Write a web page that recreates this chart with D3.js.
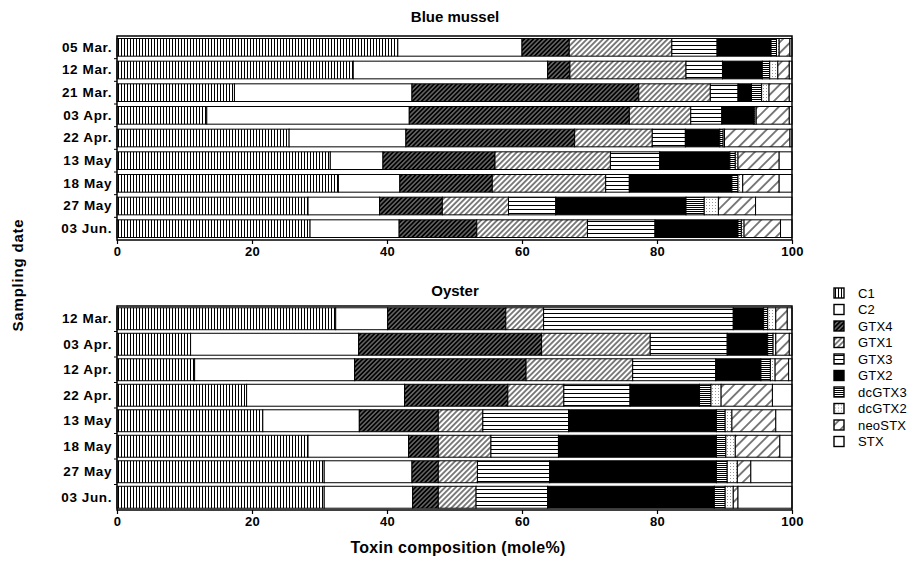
<!DOCTYPE html>
<html>
<head>
<meta charset="utf-8">
<script src="https://cdn.jsdelivr.net/npm/d3@7"></script>
<style>
  body { margin: 0; background: #fff; }
  svg { display: block; font-family: "Liberation Sans", Arial, sans-serif; }
</style>
</head>
<body>
<svg id="chart" width="912" height="563"></svg>
<script>
// toxin order, left to right in each bar
const toxins = ["C1", "C2", "GTX4", "GTX1", "GTX3", "GTX2", "dcGTX3", "dcGTX2", "neoSTX", "STX"];

const musselDates = ["05 Mar.", "12 Mar.", "21 Mar.", "03 Apr.", "22 Apr.", "13 May", "18 May", "27 May", "03 Jun."];
// mole% per toxin, same order as toxins
const musselValues = [
  [41.6, 18.4, 7.0, 15.2, 6.7, 8.0, 0.8, 0.4, 1.6, 0.3],
  [35.0, 28.8, 3.3, 17.2, 5.4, 5.9, 1.1, 1.2, 1.7, 0.4],
  [17.4, 26.3, 33.6, 10.6, 4.1, 2.0, 1.5, 1.1, 3.0, 0.4],
  [13.3, 30.0, 32.6, 9.1, 4.6, 4.7, 0.2, 0.2, 4.9, 0.4],
  [25.5, 17.3, 25.0, 11.5, 4.9, 5.1, 0.5, 0.2, 9.7, 0.3],
  [31.6, 7.8, 16.6, 17.1, 7.3, 10.4, 0.8, 0.4, 6.1, 1.9],
  [32.8, 9.1, 13.7, 16.8, 3.5, 15.2, 0.9, 0.7, 5.4, 1.9],
  [28.3, 10.6, 9.3, 9.8, 7.0, 19.3, 2.7, 2.1, 5.5, 5.4],
  [28.6, 13.2, 11.5, 16.4, 10.0, 12.3, 0.5, 0.4, 5.4, 1.7]
];

const oysterDates = ["12 Mar.", "03 Apr.", "12 Apr.", "22 Apr.", "13 May", "18 May", "27 May", "03 Jun."];
const oysterValues = [
  [32.4, 7.7, 17.5, 5.6, 28.1, 4.5, 0.6, 1.2, 1.7, 0.7],
  [10.9, 24.9, 27.1, 16.1, 11.4, 6.0, 0.8, 0.4, 2.0, 0.4],
  [11.5, 23.7, 25.4, 15.8, 12.3, 6.7, 1.4, 0.7, 2.0, 0.5],
  [19.2, 23.4, 15.3, 8.3, 9.8, 10.3, 1.7, 1.5, 7.6, 2.9],
  [21.6, 14.3, 11.7, 6.6, 12.7, 21.9, 1.3, 1.0, 6.5, 2.4],
  [28.3, 14.9, 4.4, 7.8, 10.0, 23.4, 1.4, 1.4, 6.6, 1.8],
  [30.7, 13.0, 3.9, 5.8, 10.7, 24.7, 1.6, 1.5, 2.0, 6.1],
  [30.7, 13.1, 3.8, 5.6, 10.6, 24.7, 1.6, 1.2, 0.7, 8.0]
];

const xTicks = [0, 20, 40, 60, 80, 100];

const svg = d3.select("#chart");
const defs = svg.append("defs");

// --- fill patterns, one per toxin ---
function diagPattern(id, size, strokeW, color) {
  const p = defs.append("pattern")
    .attr("id", id)
    .attr("patternUnits", "userSpaceOnUse")
    .attr("width", size)
    .attr("height", size)
    .attr("patternTransform", "rotate(45)");
  p.append("rect").attr("width", size).attr("height", size).attr("fill", "#fff");
  p.append("line")
    .attr("x1", size / 2).attr("x2", size / 2)
    .attr("y1", 0).attr("y2", size)
    .attr("stroke", color || "#000")
    .attr("stroke-width", strokeW);
}

// crisp stripes: a 1px black band inside a w x h tile
function stripePattern(id, w, h, vertical) {
  const p = defs.append("pattern")
    .attr("id", id)
    .attr("patternUnits", "userSpaceOnUse")
    .attr("width", w)
    .attr("height", h);
  p.append("rect").attr("width", w).attr("height", h).attr("fill", "#fff");
  p.append("rect")
    .attr("x", vertical ? 1 : 0)
    .attr("y", vertical ? 0 : 1)
    .attr("width", vertical ? 1 : w)
    .attr("height", vertical ? h : 1)
    .attr("fill", "#000");
}

stripePattern("p-C1", 3, 4, true);
diagPattern("p-GTX4", 3.2, 2.6, "#000");
diagPattern("p-GTX1", 3.8, 1.0);
stripePattern("p-GTX3", 4, 4, false);
stripePattern("p-dcGTX3", 4, 2, false);
diagPattern("p-neoSTX", 7.5, 1.0);

const dots = defs.append("pattern")
  .attr("id", "p-dcGTX2")
  .attr("patternUnits", "userSpaceOnUse")
  .attr("width", 3).attr("height", 3);
dots.append("rect").attr("width", 3).attr("height", 3).attr("fill", "#fff");
dots.append("rect").attr("x", 1).attr("y", 1).attr("width", 1).attr("height", 1).attr("fill", "#999");

const fills = {
  C1: "url(#p-C1)",
  C2: "#fff",
  GTX4: "url(#p-GTX4)",
  GTX1: "url(#p-GTX1)",
  GTX3: "url(#p-GTX3)",
  GTX2: "#000",
  dcGTX3: "url(#p-dcGTX3)",
  dcGTX2: "url(#p-dcGTX2)",
  neoSTX: "url(#p-neoSTX)",
  STX: "#fff"
};

const x = d3.scaleLinear().domain([0, 100]).range([117, 792]);

function drawPanel(title, titleY, dates, values, top, bottom, padding) {
  const y = d3.scaleBand().domain(dates).range([top, bottom]).paddingInner(padding).paddingOuter(padding / 2);

  const rows = dates.map((d, i) => {
    const r = { date: d };
    toxins.forEach((t, j) => (r[t] = values[i][j]));
    return r;
  });
  const series = d3.stack().keys(toxins)(rows);

  const g = svg.append("g");

  // title
  g.append("text")
    .attr("x", 455)
    .attr("y", titleY)
    .attr("text-anchor", "middle")
    .style("font-size", "15px")
    .style("font-weight", "bold")
    .text(title);

  // stacked bars
  g.selectAll(".layer")
    .data(series)
    .enter()
    .append("g")
    .attr("fill", (s) => fills[s.key])
    .selectAll("rect")
    .data((s) => s)
    .enter()
    .append("rect")
    .attr("x", (d) => x(d[0]))
    .attr("y", (d) => y(d.data.date))
    .attr("width", (d) => Math.max(0, x(d[1]) - x(d[0])))
    .attr("height", y.bandwidth())
    .attr("stroke", "#000")
    .attr("stroke-width", 1);

  // frame
  g.append("rect")
    .attr("x", x(0))
    .attr("y", top)
    .attr("width", x(100) - x(0))
    .attr("height", bottom - top)
    .attr("fill", "none")
    .attr("stroke", "#000")
    .attr("stroke-width", 1.5);

  // x axis
  const xAxis = d3.axisBottom(x).tickValues(xTicks).tickSize(4).tickPadding(3);
  const ax = g.append("g").attr("transform", `translate(0,${bottom})`).call(xAxis);
  ax.select(".domain").remove();
  ax.selectAll("line").attr("stroke-width", 1.2);
  ax.selectAll("text")
    .style("font-size", "13px")
    .style("font-weight", "bold")
    .style("letter-spacing", "0.3px")
    .attr("fill", "#000");

  // y labels
  const yAxis = d3.axisLeft(y).tickSize(0).tickPadding(5);
  const ay = g.append("g").attr("transform", `translate(${x(0)},0)`).call(yAxis);
  ay.select(".domain").remove();
  ay.selectAll("text")
    .style("font-size", "13.5px")
    .style("font-weight", "bold")
    .style("letter-spacing", "0.6px")
    .attr("fill", "#000");

  // small ticks between rows
  const step = y.step();
  g.selectAll(".rowtick")
    .data(dates.slice(1))
    .enter()
    .append("line")
    .attr("x1", x(0) - 3)
    .attr("x2", x(0))
    .attr("y1", (d) => y(d) - (step - y.bandwidth()) / 2)
    .attr("y2", (d) => y(d) - (step - y.bandwidth()) / 2)
    .attr("stroke", "#000");
}

drawPanel("Blue mussel", 22, musselDates, musselValues, 36, 240, 0.22);
drawPanel("Oyster", 296, oysterDates, oysterValues, 306, 510, 0.14);

// axis titles
svg.append("text")
  .attr("x", 458)
  .attr("y", 553)
  .attr("text-anchor", "middle")
  .style("font-size", "16px")
  .style("font-weight", "bold")
  .style("letter-spacing", "0.3px")
  .text("Toxin composition (mole%)");

svg.append("text")
  .attr("transform", "translate(23,275) rotate(-90)")
  .attr("text-anchor", "middle")
  .style("font-size", "15px")
  .style("font-weight", "bold")
  .style("letter-spacing", "0.8px")
  .text("Sampling date");

// legend
const legend = svg.append("g").attr("transform", "translate(834,288)");
toxins.forEach((t, i) => {
  const item = legend.append("g").attr("transform", `translate(0,${i * 16.5})`);
  item.append("rect")
    .attr("width", 10)
    .attr("height", 10)
    .attr("fill", fills[t])
    .attr("stroke", "#000")
    .attr("stroke-width", 1.4);
  item.append("text")
    .attr("x", 24)
    .attr("y", 5)
    .attr("dy", "0.35em")
    .style("font-size", "13px")
    .style("letter-spacing", "0.2px")
    .text(t);
});
</script>
</body>
</html>
